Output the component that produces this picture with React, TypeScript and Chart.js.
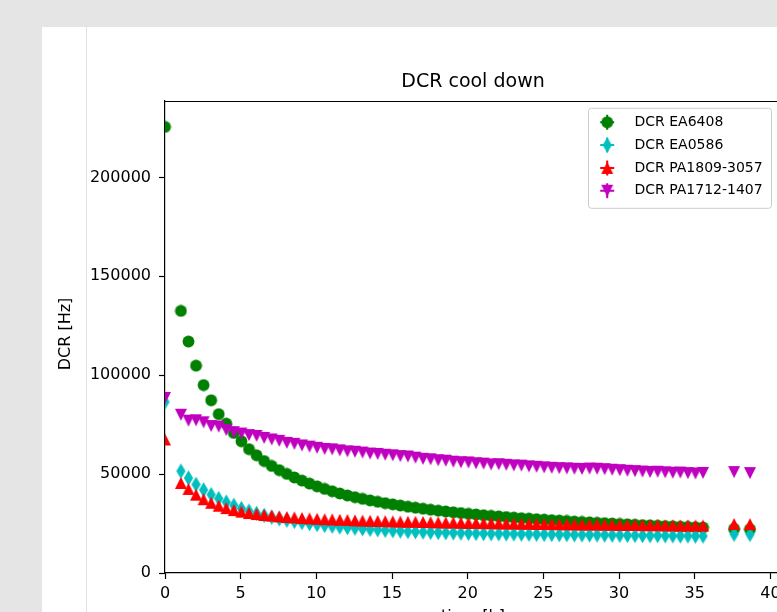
import React, { useEffect, useRef } from 'react';
import { Chart, registerables } from 'chart.js';

Chart.register(...registerables);

const TITLE = 'DCR cool down';
const X_LABEL = 'time [h]';
const Y_LABEL = 'DCR [Hz]';
const SERIES_NAMES = ['DCR EA6408', 'DCR EA0586', 'DCR PA1809-3057', 'DCR PA1712-1407'];
const SERIES_COLORS = ['#008000', '#00bfbf', '#ff0000', '#bf00bf'];
const SERIES_MARKERS = ['circle', 'thinDiamond', 'triUp', 'triDown'];

const X_MIN = 0;
const X_MAX = 40.7;
const Y_MIN = 0;
const Y_MAX = 238600;
const X_TICKS = [0, 5, 10, 15, 20, 25, 30, 35, 40];
const Y_TICKS = [0, 50000, 100000, 150000, 200000];

const times = [
  0,
  1.05, 1.55, 2.05, 2.55, 3.05, 3.55, 4.05, 4.55, 5.05, 5.55,
  6.05, 6.55, 7.05, 7.55, 8.05, 8.55, 9.05, 9.55, 10.05, 10.55,
  11.05, 11.55, 12.05, 12.55, 13.05, 13.55, 14.05, 14.55, 15.05, 15.55,
  16.05, 16.55, 17.05, 17.55, 18.05, 18.55, 19.05, 19.55, 20.05, 20.55,
  21.05, 21.55, 22.05, 22.55, 23.05, 23.55, 24.05, 24.55, 25.05, 25.55,
  26.05, 26.55, 27.05, 27.55, 28.05, 28.55, 29.05, 29.55, 30.05, 30.55,
  31.05, 31.55, 32.05, 32.55, 33.05, 33.55, 34.05, 34.55, 35.05, 35.55,
  37.6, 38.65,
];

const dcrEA6408 = [
  225500,
  132500, 117000, 104800, 95000, 87300, 80300, 75500, 70800, 66600, 62600,
  59500, 56600, 54100, 52000, 50100, 48300, 46700, 45200, 43800, 42500,
  41300, 40200, 39200, 38300, 37500, 36700, 36000, 35300, 34700, 34100,
  33500, 33000, 32500, 32000, 31500, 31100, 30700, 30300, 29900, 29600,
  29200, 28900, 28600, 28300, 28000, 27700, 27500, 27200, 27000, 26700,
  26500, 26300, 26000, 25800, 25600, 25400, 25200, 25000, 24800, 24600,
  24400, 24200, 24100, 23900, 23700, 23600, 23400, 23300, 23100, 23000,
  22300, 22100,
];

const dcrEA0586 = [
  86500,
  51500, 48000, 44800, 42000, 39600, 37600, 35800, 34200, 32600, 31300,
  30100, 29100, 28200, 27400, 26700, 26100, 25500, 25000, 24500, 24100,
  23700, 23300, 23000, 22700, 22400, 22100, 21900, 21600, 21400, 21200,
  21000, 20900, 20700, 20600, 20500, 20400, 20300, 20200, 20100, 20000,
  19950, 19900, 19850, 19800, 19750, 19700, 19650, 19600, 19550, 19500,
  19450, 19400, 19350, 19300, 19300, 19250, 19200, 19150, 19100, 19050,
  19000, 18950, 18900, 18900, 18850, 18800, 18750, 18750, 18700, 18700,
  19600, 19500,
];

const dcrPA1809 = [
  67500,
  45500, 42500, 39600, 37300, 35500, 34000, 32800, 31800, 31000, 30300,
  29800, 29300, 29000, 28600, 28300, 28100, 27800, 27600, 27400, 27200,
  27100, 26900, 26800, 26600, 26500, 26400, 26300, 26200, 26100, 26000,
  25900, 25900, 25800, 25700, 25600, 25500, 25500, 25400, 25300, 25300,
  25200, 25200, 25100, 25000, 25000, 24900, 24900, 24800, 24800, 24700,
  24700, 24600, 24600, 24500, 24500, 24500, 24400, 24400, 24300, 24300,
  24300, 24200, 24200, 24200, 24100, 24100, 24000, 24000, 24000, 24000,
  24800, 24700,
];

const dcrPA1712 = [
  88500,
  80000, 77000, 77200, 76200, 74300, 74000, 72300, 71200, 70500, 69700,
  69300, 68300, 67500, 66800, 65800, 65300, 64500, 63900, 63300, 62700,
  62500, 62000, 61500, 61300, 60900, 60400, 60200, 59800, 59500, 59100,
  58900, 58300, 57700, 57500, 57000, 56800, 56300, 56000, 55900, 55500,
  55300, 54900, 55000, 54700, 54400, 54300, 53900, 53700, 53400, 53200,
  53000, 52900, 52700, 52600, 52800, 52700, 52500, 52200, 52000, 51700,
  51500, 51300, 51100, 51200, 50900, 50700, 50800, 50500, 50300, 50600,
  51000, 50500,
];

const SERIES_VALUES = [dcrEA6408, dcrEA0586, dcrPA1809, dcrPA1712];

const FONT = '"DejaVu Sans", "Liberation Sans", sans-serif';

function makeMarker(kind: string, color: string): HTMLCanvasElement {
  const c = document.createElement('canvas');
  let w = 13, h = 13;
  if (kind === 'thinDiamond') { w = 11; h = 17; }
  if (kind === 'triUp' || kind === 'triDown') { w = 14; h = 14; }
  c.width = w; c.height = h;
  const ctx = c.getContext('2d')!;
  ctx.fillStyle = color;
  ctx.beginPath();
  const cx = w / 2, cy = h / 2;
  if (kind === 'circle') {
    ctx.arc(cx, cy, 5.9, 0, Math.PI * 2);
  } else if (kind === 'thinDiamond') {
    ctx.moveTo(cx, cy - 7.7);
    ctx.lineTo(cx + 4.6, cy);
    ctx.lineTo(cx, cy + 7.7);
    ctx.lineTo(cx - 4.6, cy);
  } else if (kind === 'triUp') {
    ctx.moveTo(cx, cy - 6);
    ctx.lineTo(cx + 6, cy + 6);
    ctx.lineTo(cx - 6, cy + 6);
  } else {
    ctx.moveTo(cx - 6, cy - 6);
    ctx.lineTo(cx + 6, cy - 6);
    ctx.lineTo(cx, cy + 6);
  }
  ctx.closePath();
  ctx.fill();
  return c;
}

export default function App() {
  const ref = useRef<HTMLCanvasElement | null>(null);

  useEffect(() => {
    const canvas = ref.current;
    if (!canvas) return;
    const markers = SERIES_MARKERS.map((m, i) => makeMarker(m, SERIES_COLORS[i]));

    const datasets = SERIES_NAMES.map((name, i) => ({
      label: name,
      data: times.map((t, k) => ({ x: t, y: SERIES_VALUES[i][k] })),
      pointStyle: markers[i] as any,
      pointRadius: 6,
      pointHoverRadius: 6,
      backgroundColor: SERIES_COLORS[i],
      borderColor: SERIES_COLORS[i],
      showLine: false,
      clip: 0,
      order: SERIES_NAMES.length - i,
    }));

    const decor = {
      id: 'decor',
      afterDraw(chart: any) {
        const { ctx, chartArea: a } = chart;
        ctx.save();
        // top and right spines
        ctx.strokeStyle = '#000';
        ctx.lineWidth = 1.2;
        ctx.beginPath();
        ctx.moveTo(a.left, a.top + 0.5);
        ctx.lineTo(a.right, a.top + 0.5);
        ctx.lineTo(a.right, a.bottom);
        ctx.stroke();

        ctx.fillStyle = '#000';
        ctx.textAlign = 'center';
        ctx.textBaseline = 'middle';
        ctx.font = `19px ${FONT}`;
        ctx.fillText(TITLE, (a.left + a.right) / 2, a.top - 19);

        ctx.font = `16px ${FONT}`;
        ctx.fillText(X_LABEL, (a.left + a.right) / 2, a.bottom + 44);

        ctx.save();
        ctx.translate(24, (a.top + a.bottom) / 2 - 3);
        ctx.rotate(-Math.PI / 2);
        ctx.fillText(Y_LABEL, 0, 0);
        ctx.restore();

        // legend
        const bw = 183, bh = 100;
        const bx = a.right - 9.5 - bw;
        const by = a.top + 7.3;
        const r = 3;
        ctx.beginPath();
        ctx.moveTo(bx + r, by);
        ctx.lineTo(bx + bw - r, by);
        ctx.quadraticCurveTo(bx + bw, by, bx + bw, by + r);
        ctx.lineTo(bx + bw, by + bh - r);
        ctx.quadraticCurveTo(bx + bw, by + bh, bx + bw - r, by + bh);
        ctx.lineTo(bx + r, by + bh);
        ctx.quadraticCurveTo(bx, by + bh, bx, by + bh - r);
        ctx.lineTo(bx, by + r);
        ctx.quadraticCurveTo(bx, by, bx + r, by);
        ctx.closePath();
        ctx.fillStyle = 'rgba(255,255,255,0.8)';
        ctx.fill();
        ctx.strokeStyle = '#cccccc';
        ctx.lineWidth = 1;
        ctx.stroke();

        ctx.font = `14px ${FONT}`;
        ctx.textAlign = 'left';
        SERIES_NAMES.forEach((name, i) => {
          const y = by + 14 + i * 22.8;
          const mx = bx + 18.7;
          ctx.strokeStyle = SERIES_COLORS[i];
          ctx.lineWidth = 2;
          ctx.beginPath();
          ctx.moveTo(mx - 7, y);
          ctx.lineTo(mx + 7, y);
          ctx.moveTo(mx, y - 7.5);
          ctx.lineTo(mx, y + 7.5);
          ctx.stroke();
          const img = markers[i];
          ctx.drawImage(img, mx - img.width / 2, y - img.height / 2);
          ctx.fillStyle = '#000';
          ctx.fillText(name, bx + 46, y);
        });
        ctx.restore();
      },
    };

    const tickFont = { family: FONT, size: 16 };

    const chart = new Chart(canvas, {
      type: 'scatter',
      data: { datasets: datasets as any },
      options: {
        responsive: false,
        maintainAspectRatio: false,
        animation: false,
        devicePixelRatio: 1,
        events: [],
        layout: { padding: { left: 0, top: 74, right: 21, bottom: 0 } },
        plugins: {
          legend: { display: false },
          tooltip: { enabled: false },
          title: { display: false },
        },
        scales: {
          x: {
            type: 'linear',
            position: 'bottom',
            min: X_MIN,
            max: X_MAX,
            afterFit: (s: any) => { s.height = 54; },
            afterBuildTicks: (s: any) => { s.ticks = X_TICKS.map((v) => ({ value: v })); },
            ticks: {
              autoSkip: false,
              maxRotation: 0,
              padding: 5,
              color: '#000',
              font: tickFont,
              callback: (v: any) => String(v),
            },
            grid: {
              drawOnChartArea: false,
              drawTicks: true,
              tickLength: 6,
              tickColor: '#000',
              tickWidth: 1.2,
              color: '#000',
            },
            border: { display: true, color: '#000', width: 1.2 },
          },
          y: {
            type: 'linear',
            min: Y_MIN,
            max: Y_MAX,
            afterFit: (s: any) => { s.width = 123; },
            afterBuildTicks: (s: any) => { s.ticks = Y_TICKS.map((v) => ({ value: v })); },
            ticks: {
              autoSkip: false,
              padding: 8,
              color: '#000',
              font: tickFont,
              callback: (v: any) => String(v),
            },
            grid: {
              drawOnChartArea: false,
              drawTicks: true,
              tickLength: 6,
              tickColor: '#000',
              tickWidth: 1.2,
              color: '#000',
            },
            border: { display: true, color: '#000', width: 1.2 },
          },
        },
      },
      plugins: [decor],
    });

    return () => chart.destroy();
  }, []);

  return (
    <div style={{ position: 'fixed', left: 0, top: 0, right: 0, bottom: 0, background: '#e5e5e5', overflow: 'hidden' }}>
      <div style={{ position: 'absolute', left: 42, top: 27, right: 0, bottom: 0, background: '#ffffff' }} />
      <div style={{ position: 'absolute', left: 86, top: 27, width: 1, bottom: 0, background: '#e0e0e0' }} />
      <canvas
        ref={ref}
        width={760}
        height={600}
        style={{ position: 'absolute', left: 42, top: 27, width: 760, height: 600, display: 'block' }}
      />
    </div>
  );
}
